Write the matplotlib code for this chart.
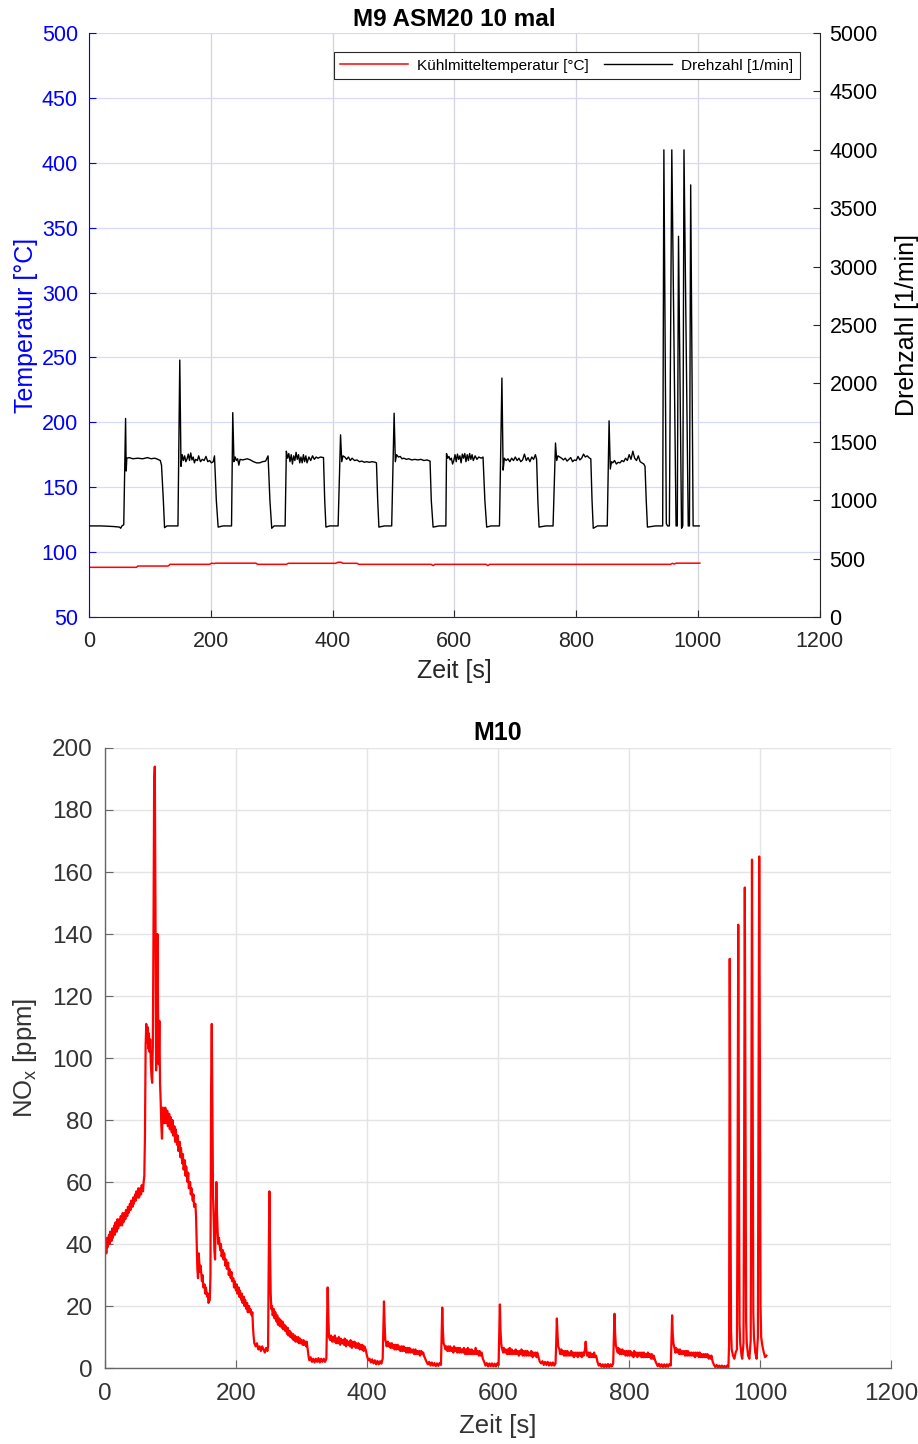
import matplotlib
matplotlib.use("Agg")
import matplotlib.pyplot as plt

plt.rcParams['font.family'] = ['Liberation Sans', 'DejaVu Sans']
plt.rcParams['mathtext.default'] = 'regular'

# --- M9: Kuehlmitteltemperatur [degC] over Zeit [s]
temperatur = [(0, 88.3), (78, 88.3), (80, 89.3), (130, 89.3), (133, 90.6), (198, 90.6),
              (201, 91.5), (206, 91.2), (208, 91.5), (274, 91.5), (277, 90.6), (324, 90.6),
              (327, 91.4), (405, 91.4), (409, 92.2), (414, 92.2), (417, 91.4), (440, 91.4),
              (443, 90.6), (562, 90.6), (565, 89.6), (568, 90.6), (652, 90.6), (655, 89.6),
              (658, 90.6), (955, 90.6), (958, 91.4), (961, 90.8), (964, 91.5), (1003, 91.5)]

# --- M9: Drehzahl [1/min] over Zeit [s]
drehzahl = [
    (0, 780), (20, 780), (40, 775), (50, 770), (52, 760), (54, 780), (57, 790),
    (60, 1700), (61, 1250), (62, 1360), (66, 1365), (72, 1355), (80, 1360), (88, 1355),
    (96, 1365), (102, 1355), (108, 1360), (113, 1350), (117, 1340), (119, 1300),
    (122, 1000), (124, 765), (128, 780), (140, 780), (146, 780),
    (149, 2200), (151, 1290), (153, 1390), (155, 1340), (157, 1380), (159, 1330),
    (161, 1355), (163, 1395), (165, 1340), (167, 1405), (169, 1345), (171, 1370),
    (173, 1320), (175, 1350), (178, 1340), (180, 1380), (183, 1330), (186, 1350),
    (189, 1340), (192, 1375), (195, 1330), (198, 1340), (201, 1320), (204, 1330),
    (206, 1380), (209, 1000), (212, 770), (220, 780), (234, 780),
    (236, 1750), (238, 1330), (240, 1370), (242, 1340), (244, 1355), (246, 1300),
    (248, 1350), (252, 1345), (256, 1350), (260, 1355), (265, 1345), (270, 1330),
    (275, 1320), (280, 1320), (285, 1330), (290, 1335), (294, 1380), (297, 1000),
    (300, 760), (304, 780), (322, 780),
    (324, 1420), (326, 1360), (328, 1400), (330, 1330), (332, 1390), (334, 1310),
    (336, 1380), (338, 1340), (340, 1410), (342, 1350), (344, 1390), (346, 1320),
    (348, 1370), (350, 1320), (352, 1390), (354, 1330), (356, 1380), (358, 1320),
    (361, 1370), (364, 1340), (367, 1380), (370, 1350), (373, 1370), (376, 1360),
    (380, 1370), (385, 1365), (387, 1000), (389, 770), (395, 780), (409, 780),
    (413, 1560), (415, 1330), (417, 1380), (420, 1370), (423, 1350), (426, 1370),
    (429, 1340), (432, 1360), (436, 1340), (440, 1345), (444, 1330), (448, 1335),
    (452, 1325), (456, 1330), (460, 1325), (465, 1330), (470, 1325), (472, 1320),
    (474, 1000), (476, 770), (485, 780), (497, 780),
    (501, 1745), (503, 1330), (505, 1390), (508, 1370), (511, 1375), (514, 1355),
    (517, 1360), (521, 1350), (525, 1355), (530, 1345), (535, 1350), (540, 1345),
    (545, 1350), (550, 1340), (555, 1345), (560, 1335), (562, 1000), (565, 770),
    (575, 780), (586, 780),
    (587, 1400), (589, 1360), (591, 1375), (593, 1345), (595, 1360), (597, 1310),
    (599, 1340), (601, 1390), (603, 1330), (605, 1395), (607, 1350), (609, 1380),
    (611, 1320), (613, 1395), (615, 1360), (617, 1400), (619, 1330), (621, 1390),
    (623, 1340), (625, 1400), (627, 1350), (629, 1390), (631, 1340), (634, 1380),
    (637, 1350), (640, 1370), (644, 1360), (647, 1370), (650, 1000), (653, 770),
    (660, 780), (674, 780),
    (678, 2046), (680, 1258), (682, 1360), (685, 1340), (688, 1355), (691, 1330),
    (694, 1360), (697, 1340), (700, 1370), (703, 1340), (706, 1360), (709, 1330),
    (712, 1345), (715, 1395), (718, 1340), (721, 1365), (724, 1330), (727, 1370),
    (730, 1350), (733, 1390), (735, 1350), (737, 1000), (739, 770), (750, 780), (762, 780),
    (766, 1490), (768, 1340), (770, 1380), (773, 1370), (776, 1360), (779, 1345),
    (782, 1360), (785, 1335), (788, 1350), (791, 1365), (794, 1330), (797, 1345),
    (800, 1340), (803, 1375), (806, 1345), (809, 1360), (812, 1395), (815, 1370),
    (818, 1380), (822, 1360), (824, 1355), (826, 1000), (828, 760), (835, 780), (851, 780),
    (854, 1680), (856, 1267), (858, 1330), (860, 1320), (863, 1340), (866, 1310),
    (869, 1325), (872, 1320), (875, 1340), (878, 1330), (881, 1360), (884, 1340),
    (887, 1390), (890, 1350), (893, 1420), (896, 1360), (899, 1340), (902, 1380),
    (905, 1330), (908, 1320), (911, 1310), (913, 1290), (915, 1000), (917, 770),
    (930, 780), (942, 780),
    (944, 4000), (948, 800), (950, 780), (953, 780),
    (957, 4000), (964, 780), (966, 780),
    (968, 3260), (973, 760), (975, 780),
    (977, 4000), (984, 780), (986, 780),
    (988, 3700), (992, 780), (996, 780), (1002, 780)]

# --- M10: NOx [ppm] over Zeit [s]
nox = [
    (0, 38), (1, 41), (2, 37), (3, 42), (4, 39), (6, 43), (7, 40), (8, 44), (10, 41),
    (11, 45), (12, 42), (14, 46), (15, 43), (16, 47), (18, 44), (19, 48), (20, 45),
    (22, 48), (23, 46), (24, 49), (26, 46), (27, 50), (28, 47), (30, 50), (31, 48),
    (32, 51), (34, 49), (35, 52), (36, 50), (38, 53), (39, 51), (40, 54), (42, 52),
    (43, 55), (44, 53), (46, 56), (47, 54), (48, 57), (50, 55), (51, 58), (52, 55),
    (54, 58), (55, 56), (56, 59), (58, 57), (59, 60), (60, 62),
    (61, 75), (62, 104), (63, 111), (64, 105), (65, 110), (66, 103), (67, 108),
    (68, 102), (69, 106), (70, 98), (71, 94), (72, 92), (73, 104), (74, 140),
    (75, 188), (76, 194), (77, 150), (78, 96), (79, 118), (80, 140), (81, 115),
    (82, 98), (83, 112), (84, 92), (85, 86), (86, 78), (87, 74), (88, 84), (89, 79),
    (90, 83), (91, 79), (92, 84), (94, 79), (95, 83), (96, 78), (98, 82), (99, 77),
    (100, 81), (102, 76), (103, 80), (104, 75), (106, 78), (107, 73), (108, 77),
    (110, 72), (111, 75), (112, 70), (114, 73), (115, 68), (116, 71), (118, 66),
    (119, 69), (120, 64), (122, 67), (123, 62), (124, 65), (126, 60), (127, 63),
    (128, 58), (130, 60), (131, 56), (132, 58), (134, 54), (135, 56), (136, 52),
    (138, 53), (139, 49), (140, 40), (141, 32), (142, 29), (143, 37), (144, 34),
    (145, 31), (146, 33), (148, 28), (149, 30), (150, 26), (152, 27), (153, 24),
    (154, 26), (156, 23), (157, 24), (158, 21), (160, 22), (161, 30), (162, 90),
    (163, 111), (164, 85), (165, 55), (166, 48), (167, 38), (168, 35), (169, 48),
    (170, 60), (171, 50), (172, 44), (173, 40), (174, 42), (176, 38), (177, 40),
    (178, 36), (180, 38), (181, 35), (182, 37), (184, 33), (185, 35), (186, 32),
    (188, 34), (189, 30), (190, 32), (192, 29), (193, 31), (194, 28), (196, 29),
    (197, 26), (198, 28), (200, 25), (201, 27), (202, 24), (204, 26), (205, 23),
    (206, 25), (208, 22), (209, 24), (210, 21), (212, 23), (213, 20), (214, 22),
    (216, 19), (217, 21), (218, 18), (220, 20), (221, 18), (222, 19), (224, 17),
    (225, 18), (226, 13), (227, 10), (228, 8), (230, 7), (232, 8), (234, 6),
    (236, 7), (238, 5.5), (240, 7), (242, 6), (244, 5), (246, 6.5), (248, 5.5),
    (249, 7), (250, 35), (251, 57), (252, 38), (253, 24), (254, 19), (255, 20),
    (256, 17), (258, 19), (259, 16), (260, 18), (262, 15), (263, 17), (264, 14),
    (266, 16), (267, 13.5), (268, 15.5), (270, 13), (271, 15), (272, 12.5),
    (274, 14), (275, 12), (276, 13.5), (278, 11), (279, 13), (280, 10.5), (282, 12),
    (283, 10), (284, 11.5), (286, 9.5), (287, 11), (288, 9), (290, 10.5), (291, 8.5),
    (292, 10), (294, 8.5), (295, 10), (296, 8), (298, 9.5), (299, 8), (300, 9),
    (302, 7.5), (303, 9), (304, 7.5), (306, 8.5), (307, 7), (308, 8.5), (310, 5),
    (311, 3.5), (312, 2.5), (314, 3.5), (316, 2), (318, 3), (320, 1.8), (322, 3),
    (324, 2), (326, 3.2), (328, 1.8), (330, 3), (332, 2), (334, 3), (336, 2), (338, 3),
    (339, 15), (340, 26), (341, 17), (342, 10),
    (344, 9), (345, 10.5), (347, 8.5), (348, 10), (350, 8.5), (351, 10.5), (353, 8),
    (354, 9.5), (356, 8), (357, 10), (359, 7.5), (360, 9.5), (362, 8), (363, 9),
    (365, 7.5), (366, 9.5), (368, 7), (369, 9), (371, 7.5), (372, 8.5), (374, 7),
    (375, 9), (377, 6.5), (378, 8.5), (380, 7), (381, 8.5), (383, 6.5), (384, 8),
    (386, 6.5), (387, 8), (389, 6), (390, 7.5), (392, 6), (393, 7.5), (395, 5.5),
    (396, 7), (398, 6), (400, 4), (402, 2.5), (404, 3), (406, 1.8), (408, 2.8),
    (410, 1.5), (412, 2.5), (414, 1.2), (416, 2.3), (418, 1.2), (420, 2.2), (422, 1.4),
    (424, 3), (425, 12), (426, 21.5), (427, 14), (428, 9),
    (429, 8.5), (430, 7), (432, 8.5), (433, 7), (435, 8), (436, 6.5), (438, 8),
    (439, 6.5), (441, 7.5), (442, 6), (444, 7.5), (445, 6), (447, 7.5), (448, 6),
    (450, 7), (451, 5.5), (453, 7), (454, 5.5), (456, 7), (457, 5.5), (459, 6.5),
    (460, 5), (462, 6.5), (463, 5), (465, 6.5), (466, 5), (468, 6), (469, 5), (471, 6),
    (472, 4.5), (474, 6), (475, 4.5), (477, 5.5), (478, 4.5), (480, 5.5), (481, 4),
    (483, 5.5), (484, 4.5), (486, 5), (487, 4), (489, 3), (491, 2), (493, 1.2),
    (495, 2), (497, 0.8), (499, 1.8), (501, 0.8), (503, 1.6), (505, 0.6), (507, 1.5),
    (509, 0.7), (511, 1.6), (513, 1), (514, 10), (515, 19.5), (516, 12), (517, 8),
    (518, 7.5), (520, 6), (521, 7), (523, 5.5), (524, 7), (526, 5.5), (527, 7),
    (529, 5.5), (530, 6.5), (532, 5), (533, 7), (535, 5.5), (536, 6.5), (538, 5),
    (539, 6.5), (541, 5), (542, 6.5), (544, 5), (545, 6), (547, 5), (548, 6.5),
    (550, 4.5), (551, 6), (553, 4.5), (554, 6.5), (556, 4.5), (557, 6), (559, 4.5),
    (560, 6), (562, 4.5), (563, 5.5), (565, 4.5), (566, 6.5), (568, 4.5), (569, 5.5),
    (571, 4), (572, 5.5), (574, 4), (575, 5), (577, 3), (579, 2), (581, 0.8),
    (583, 1.6), (585, 0.5), (587, 1.5), (589, 0.6), (591, 1.5), (593, 0.5), (595, 1.4),
    (597, 0.5), (599, 1.5), (601, 1), (602, 11), (603, 20.5), (604, 12), (605, 8),
    (606, 6.5), (608, 5), (609, 6.5), (611, 5), (612, 6), (614, 4.5), (615, 6),
    (617, 4.5), (618, 6.5), (620, 4.5), (621, 6), (623, 4.5), (624, 5.5), (626, 4.5),
    (627, 6), (629, 4.5), (630, 5.5), (632, 4), (633, 5.5), (635, 4.5), (636, 6),
    (638, 4), (639, 5.5), (641, 4), (642, 5.5), (644, 4), (645, 5.5), (647, 4),
    (648, 5), (650, 4), (651, 5.5), (653, 3.5), (654, 5), (656, 4), (657, 5),
    (659, 3.5), (660, 5), (662, 3.5), (664, 2), (666, 1.5), (668, 2.2), (670, 1),
    (672, 2), (674, 1), (676, 2), (678, 0.8), (680, 1.8), (682, 0.8), (684, 1.8),
    (686, 0.8), (688, 1.5), (689, 8), (690, 16), (691, 11), (692, 7),
    (694, 6), (695, 4.5), (697, 6), (698, 4.5), (700, 5.5), (701, 4), (703, 5.5),
    (704, 4), (706, 5.5), (707, 4), (709, 5), (710, 4), (712, 5.5), (713, 4), (715, 5),
    (716, 3.5), (718, 5), (719, 4), (721, 5), (722, 3.5), (724, 5), (725, 4), (727, 5),
    (728, 3.5), (730, 5), (731, 4), (733, 6), (734, 8.5), (735, 6), (736, 4), (738, 5),
    (739, 3.5), (741, 5), (742, 3.5), (744, 4.5), (745, 3.5), (747, 5), (748, 3.5),
    (750, 4), (752, 2), (754, 0.8), (756, 1.4), (758, 0.4), (760, 1.2), (762, 0.3),
    (764, 1.2), (766, 0.3), (768, 1.3), (770, 0.3), (772, 1.2), (774, 0.5), (776, 1.5),
    (777, 9), (778, 17.5), (779, 11), (780, 7.5),
    (781, 6.5), (783, 5), (784, 6.5), (786, 4.5), (787, 6), (789, 4.5), (790, 6),
    (792, 4.5), (793, 5.5), (795, 4), (796, 5.5), (798, 4), (799, 5.5), (801, 4),
    (802, 5.5), (804, 4), (805, 5), (807, 3.5), (808, 5.5), (810, 4), (811, 5),
    (813, 3.5), (814, 5), (816, 4), (817, 5), (819, 3.5), (820, 5), (822, 3.5),
    (823, 5), (825, 3.5), (826, 4.5), (828, 3.5), (829, 5), (831, 3.5), (832, 4.5),
    (834, 3), (835, 4.5), (837, 3), (838, 4), (840, 2.5), (842, 1.5), (844, 0.6),
    (846, 1.4), (848, 0.4), (850, 1.2), (852, 0.3), (854, 1.2), (856, 0.3), (858, 1.2),
    (860, 0.4), (862, 1.3), (864, 0.8), (865, 9), (866, 17), (867, 11), (868, 8),
    (869, 7), (871, 5), (872, 6.5), (874, 5), (875, 6), (877, 4.5), (878, 6),
    (880, 4.5), (881, 5.5), (883, 4.5), (884, 5.5), (886, 4), (887, 5.5), (889, 4),
    (890, 5.5), (892, 4), (893, 5), (895, 4), (896, 5), (898, 4), (899, 5), (901, 3.5),
    (902, 5), (904, 4), (905, 5), (907, 3.5), (908, 5), (910, 3.5), (911, 4.5),
    (913, 3.5), (914, 4.5), (916, 3.5), (917, 4.5), (919, 3.5), (920, 4.5), (922, 3),
    (923, 4), (925, 3), (926, 4), (928, 2), (930, 1), (932, 0.3), (934, 1),
    (936, 0.2), (938, 0.8), (940, 0.1), (942, 0.8), (944, 0.1), (946, 0.7),
    (948, 0.1), (950, 0.8), (952, 0.3),
    (953, 8), (954, 132), (955, 60), (956, 12), (957, 6), (959, 4), (961, 3),
    (963, 5), (965, 6), (966, 60), (967, 143), (968, 70), (969, 14), (970, 8),
    (972, 4), (973, 3), (975, 8), (976, 70), (977, 155), (978, 80), (979, 15),
    (980, 8), (982, 4), (984, 3), (986, 9), (987, 80), (988, 164), (989, 90),
    (990, 18), (991, 10), (993, 5), (995, 3), (997, 10), (998, 90), (999, 165),
    (1000, 100), (1001, 20), (1002, 10), (1004, 7), (1006, 5), (1008, 3.5), (1010, 4)]

x_ticks = [0, 200, 400, 600, 800, 1000, 1200]

t_T, T = zip(*temperatur)
t_n, n = zip(*drehzahl)
t_nox, v_nox = zip(*nox)

blue = '#0000ff'
dark = '#262626'

fig = plt.figure(figsize=(9.18, 14.44), dpi=100)

# ---------------- top: M9 ----------------
ax = fig.add_axes([0.097, 0.5727, 0.796, 0.4044])
ax2 = ax.twinx()

l1, = ax.plot(t_T, T, color='#ff0000', lw=1.1, label='Kühlmitteltemperatur [°C]')
l2, = ax2.plot(t_n, n, color='black', lw=1.0, label='Drehzahl [1/min]')

ax.set_xlim(0, 1200)
ax.set_ylim(50, 500)
ax2.set_ylim(0, 5000)
ax.set_xticks(x_ticks)
ax.set_yticks(range(50, 501, 50))
ax2.set_yticks(range(0, 5001, 500))

ax.grid(axis='x', color='#d4d4dc', lw=0.9)
ax.grid(axis='y', color='#d8d8ff', lw=0.9)
ax.set_axisbelow(True)

for a in (ax, ax2):
    a.spines['top'].set_visible(False)
ax.spines['right'].set_visible(False)
ax2.spines['left'].set_visible(False)
ax2.spines['bottom'].set_visible(False)
ax.spines['left'].set_color(blue)
ax.spines['bottom'].set_color(dark)
ax2.spines['right'].set_color(dark)

ax.tick_params(axis='y', direction='in', colors=blue, labelsize=15.5, length=5, pad=8)
ax.tick_params(axis='x', direction='in', colors=dark, labelsize=15.5, length=5, pad=10)
ax2.tick_params(axis='y', direction='in', colors=dark, labelcolor='black', labelsize=15.5,
                length=5, pad=7)

ax.set_ylabel('Temperatur [°C]', color=blue, fontsize=18, labelpad=3)
ax2.set_ylabel('Drehzahl [1/min]', color='black', fontsize=18, labelpad=12)
ax.set_xlabel('Zeit [s]', color=dark, fontsize=18, labelpad=5)
ax.set_title('M9 ASM20 10 mal', fontsize=17.5, fontweight='bold', pad=5)

leg = ax2.legend(handles=[l1, l2], ncol=2, loc='upper right', bbox_to_anchor=(0.9726, 0.967),
                 borderaxespad=0, fontsize=11.1, frameon=True, fancybox=False, framealpha=1,
                 handlelength=4.4, columnspacing=1.0, borderpad=0.4, handletextpad=0.6)
leg.get_frame().set_edgecolor(dark)
leg.get_frame().set_linewidth(0.8)

# ---------------- bottom: M10 ----------------
bx = fig.add_axes([0.1144, 0.0526, 0.856, 0.4294])
bx.plot(t_nox, v_nox, color='#ff0000', lw=1.6)
bx.set_xlim(0, 1200)
bx.set_ylim(0, 200)
bx.set_xticks(x_ticks)
bx.set_yticks(range(0, 201, 20))
bx.grid(True, color='#e4e4e4', lw=1.0)
bx.set_axisbelow(True)
bx.spines['top'].set_visible(False)
bx.spines['right'].set_visible(False)
for s in ('left', 'bottom'):
    bx.spines[s].set_color('#666666')
    bx.spines[s].set_linewidth(1.0)
bx.tick_params(direction='in', colors='#666666', labelcolor='#333333', labelsize=17.5, length=6)
bx.tick_params(axis='y', pad=9)
bx.tick_params(axis='x', pad=11)
bx.set_xlabel('Zeit [s]', color='#333333', fontsize=18.5, labelpad=6)
bx.set_ylabel('NO$_x$ [ppm]', color='#333333', fontsize=18.5, labelpad=9)
bx.set_title('M10', fontsize=18, fontweight='bold', pad=6)

fig.savefig('out.png', dpi=100)
